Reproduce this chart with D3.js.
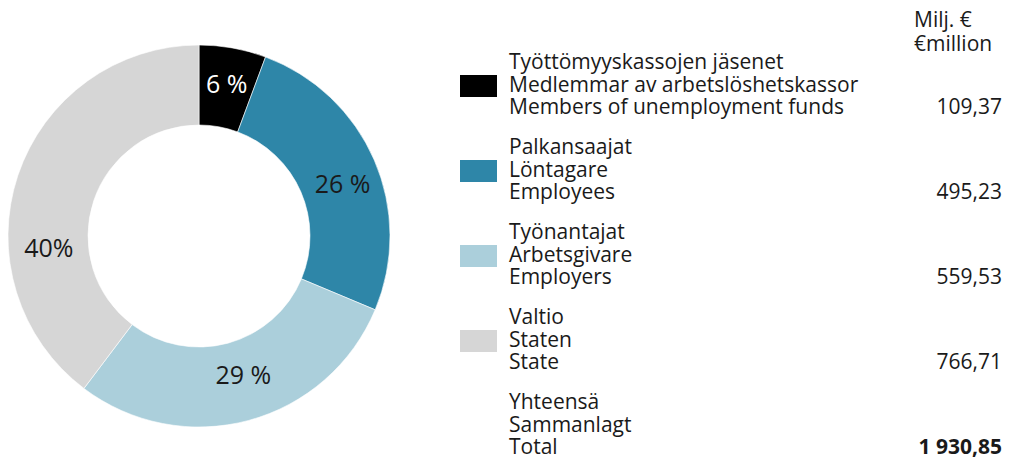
<!DOCTYPE html>
<html>
<head>
<meta charset="utf-8">
<script src="https://cdn.jsdelivr.net/npm/d3@7"></script>
<style>
  html, body { margin: 0; padding: 0; background: #fff; }
  svg { display: block; font-family: "Open Sans", sans-serif; }
</style>
</head>
<body>
<svg id="chart" width="1009" height="460"></svg>
<script>
// ---- data ----
const categoriesFi = ["Työttömyyskassojen jäsenet", "Palkansaajat", "Työnantajat", "Valtio"];
const categoriesSv = ["Medlemmar av arbetslöshetskassor", "Löntagare", "Arbetsgivare", "Staten"];
const categoriesEn = ["Members of unemployment funds", "Employees", "Employers", "State"];
const values = [109.37, 495.23, 559.53, 766.71];
const valueLabels = ["109,37", "495,23", "559,53", "766,71"];
const percentLabels = ["6 %", "26 %", "29 %", "40%"];
const totalLabels = ["Yhteensä", "Sammanlagt", "Total"];
const totalValueLabel = "1 930,85";
const unitLabels = ["Milj. €", "€million"];

// ---- styles / layout ----
const colors = ["#000000", "#2e86a8", "#abcfdb", "#d6d6d6"];
const labelColors = ["#ffffff", "#1a1a1a", "#1a1a1a", "#1a1a1a"];
const labelNudge = [[1, -3], [5, 8], [5, -7], [-7, 60]];
const cx = 199, cy = 236, R = 191, r = 111;

const svg = d3.select("#chart");
const g = svg.append("g").attr("transform", `translate(${cx},${cy})`);

const pie = d3.pie().sort(null).value(d => d);
const arcs = pie(values);
const arc = d3.arc().innerRadius(r).outerRadius(R);

g.selectAll("path.slice").data(arcs).enter().append("path")
  .attr("class", "slice")
  .attr("d", arc)
  .attr("fill", (d, i) => colors[i])
  .attr("stroke", "#fff").attr("stroke-width", 0.6);

g.selectAll("text.pct").data(arcs).enter().append("text")
  .attr("class", "pct")
  .attr("x", (d, i) => arc.centroid(d)[0] + labelNudge[i][0])
  .attr("y", (d, i) => arc.centroid(d)[1] + labelNudge[i][1])
  .attr("dy", "0.35em")
  .attr("text-anchor", "middle")
  .attr("font-size", 25)
  .attr("fill", (d, i) => labelColors[i])
  .text((d, i) => percentLabels[i]);

// ---- legend ----
const legendX = 460, textX = 509, valueX = 1002, lineH = 22.7;
const groupY = d3.scaleLinear().domain([0, 4]).range([69, 409]);
const fs = 21;
const txtColor = "#1a1a1a";

unitLabels.forEach((t, j) => {
  svg.append("text").attr("x", 914).attr("y", 27 + j * 24)
    .attr("font-size", fs).attr("fill", txtColor).text(t);
});

values.forEach((v, i) => {
  const y0 = groupY(i);
  svg.append("rect").attr("x", legendX).attr("y", y0 + 6)
    .attr("width", 37).attr("height", 22).attr("fill", colors[i]);
  [categoriesFi[i], categoriesSv[i], categoriesEn[i]].forEach((t, j) => {
    svg.append("text").attr("x", textX).attr("y", y0 + j * lineH)
      .attr("font-size", fs).attr("fill", txtColor).text(t);
  });
  svg.append("text").attr("x", valueX).attr("y", y0 + 2 * lineH)
    .attr("text-anchor", "end").attr("font-size", fs).attr("fill", txtColor)
    .text(valueLabels[i]);
});

const yT = groupY(4);
totalLabels.forEach((t, j) => {
  svg.append("text").attr("x", textX).attr("y", yT + j * lineH)
    .attr("font-size", fs).attr("fill", txtColor).text(t);
});
svg.append("text").attr("x", valueX).attr("y", yT + 2 * lineH)
  .attr("text-anchor", "end").attr("font-size", fs).attr("font-weight", "bold")
  .attr("fill", txtColor).text(totalValueLabel);
</script>
</body>
</html>
